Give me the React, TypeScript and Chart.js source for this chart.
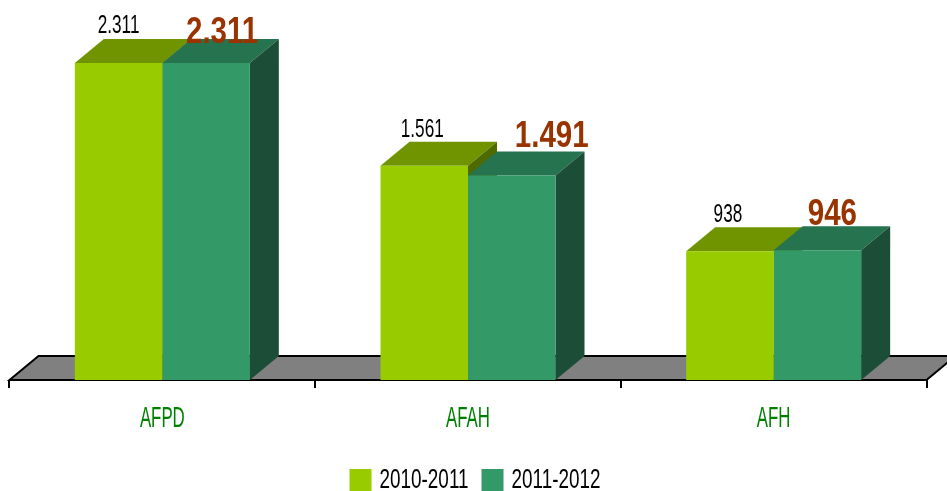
import React, { useEffect, useRef } from "react";
import { Chart, registerables } from "chart.js";

Chart.register(...registerables);

const categories = ["AFPD", "AFAH", "AFH"];
const seriesNames = ["2010-2011", "2011-2012"];
const values2010 = [2311, 1561, 938];
const values2011 = [2311, 1491, 946];

const FAMILY = '"Liberation Sans", Arial, sans-serif';
const FRONT = ["#99CC00", "#339966"];
const TOP = ["#6F9400", "#267350"];
const SIDE = ["#4F6B00", "#1C4D36"];
const DEPTH_X = 29;
const DEPTH_Y = 24;
const LEGEND_SHIFT = 10;
const LABEL_DX = [[0, -2, -2], [16, 40, 15]];
const LABEL_GAP = [[6, 5, 5], [-4, 4, 1]];
const SQUEEZE: Record<string, number> = { "26": 0.66, "28": 0.675, "29": 0.58, "36": 0.82 };

const fmt = (v: number) => String(v).replace(/\B(?=(\d{3})+$)/g, ".");

function poly(ctx: any, pts: number[][], fill: string) {
  ctx.beginPath();
  pts.forEach((p, i) => (i ? ctx.lineTo(p[0], p[1]) : ctx.moveTo(p[0], p[1])));
  ctx.closePath();
  ctx.fillStyle = fill;
  ctx.fill();
}

const bars3d = {
  id: "bars3d",
  afterLayout(chart: any) {
    chart.legend.left += LEGEND_SHIFT;
    chart.legend.right += LEGEND_SHIFT;
  },
  beforeDatasetsDraw(chart: any) {
    const { ctx, chartArea: a } = chart;
    ctx.save();
    ctx.beginPath();
    ctx.moveTo(a.left, a.bottom);
    ctx.lineTo(a.left + DEPTH_X, a.bottom - DEPTH_Y);
    ctx.lineTo(a.right + DEPTH_X, a.bottom - DEPTH_Y);
    ctx.lineTo(a.right, a.bottom);
    ctx.closePath();
    ctx.fillStyle = "#808080";
    ctx.fill();
    ctx.strokeStyle = "#000000";
    ctx.lineWidth = 2;
    ctx.stroke();
    categories.forEach((_, i) => {
      [0, 1].forEach((d) => {
        const b = chart.getDatasetMeta(d).data[i];
        const l = b.x - b.width / 2;
        const r = b.x + b.width / 2;
        poly(ctx, [[l, b.y], [l + DEPTH_X, b.y - DEPTH_Y], [r + DEPTH_X, b.y - DEPTH_Y], [r, b.y]], TOP[d]);
        poly(ctx, [[r, b.y], [r + DEPTH_X, b.y - DEPTH_Y], [r + DEPTH_X, b.base - DEPTH_Y], [r, b.base]], SIDE[d]);
      });
    });
    ctx.restore();
  },
  afterDatasetsDraw(chart: any) {
    const { ctx } = chart;
    ctx.save();
    ctx.textAlign = "center";
    ctx.textBaseline = "alphabetic";
    [0, 1].forEach((d) => {
      ctx.font = d === 0 ? `26px ${FAMILY}` : `bold 36px ${FAMILY}`;
      ctx.fillStyle = d === 0 ? "#000000" : "#993300";
      chart.getDatasetMeta(d).data.forEach((b: any, i: number) => {
        const v = chart.data.datasets[d].data[i];
        ctx.fillText(fmt(v), b.x + LABEL_DX[d][i], b.y - DEPTH_Y - LABEL_GAP[d][i]);
      });
    });
    ctx.restore();
  },
};

export default function App() {
  const ref = useRef<HTMLCanvasElement>(null);
  useEffect(() => {
    const canvas = ref.current!;
    const ctx: any = canvas.getContext("2d");
    const proto = CanvasRenderingContext2D.prototype;
    const squeeze = () => {
      const m = /(\d+(?:\.\d+)?)px/.exec(ctx.font);
      return (m && SQUEEZE[m[1]]) || 1;
    };
    ctx.fillText = (t: string, x: number, y: number) => {
      const s = squeeze();
      ctx.save();
      ctx.translate(x, y);
      ctx.scale(s, 1);
      proto.fillText.call(ctx, t, 0, 0);
      ctx.restore();
    };
    ctx.measureText = (t: string) => ({ width: proto.measureText.call(ctx, t).width * squeeze() });

    const chart = new Chart(canvas, {
      type: "bar",
      data: {
        labels: categories,
        datasets: [
          { label: seriesNames[0], data: values2010, backgroundColor: FRONT[0] },
          { label: seriesNames[1], data: values2011, backgroundColor: FRONT[1] },
        ],
      },
      options: {
        responsive: false,
        animation: false,
        layout: { padding: { top: 37, left: 9.5, right: 20.5, bottom: -13 } },
        datasets: { bar: { barPercentage: 1, categoryPercentage: 0.5725 } },
        scales: {
          y: { display: false, min: 0, max: 2500 },
          x: {
            afterFit(scale: any) {
              scale.height = 67;
            },
            border: { color: "#000000", width: 2 },
            grid: { drawOnChartArea: false, color: "#000000", lineWidth: 2, tickLength: 8 },
            ticks: {
              color: "#008000",
              maxRotation: 0,
              padding: 14,
              font: { family: FAMILY, size: 29 },
            },
          },
        },
        plugins: {
          tooltip: { enabled: false },
          legend: {
            position: "bottom",
            labels: {
              color: "#000000",
              font: { family: FAMILY, size: 28 },
              boxWidth: 10,
              boxHeight: 10,
              padding: 19,
              generateLabels: (c: any) =>
                c.data.datasets.map((ds: any, i: number) => ({
                  text: ds.label,
                  fillStyle: FRONT[i],
                  strokeStyle: FRONT[i],
                  lineWidth: 12,
                  fontColor: "#000000",
                  datasetIndex: i,
                })),
            },
          },
        },
      } as any,
      plugins: [bars3d],
    });
    return () => chart.destroy();
  }, []);
  return (
    <div style={{ position: "absolute", left: 0, top: 0, width: 947, height: 491, background: "#fff" }}>
      <canvas ref={ref} width={947} height={491} style={{ display: "block" }} />
    </div>
  );
}
